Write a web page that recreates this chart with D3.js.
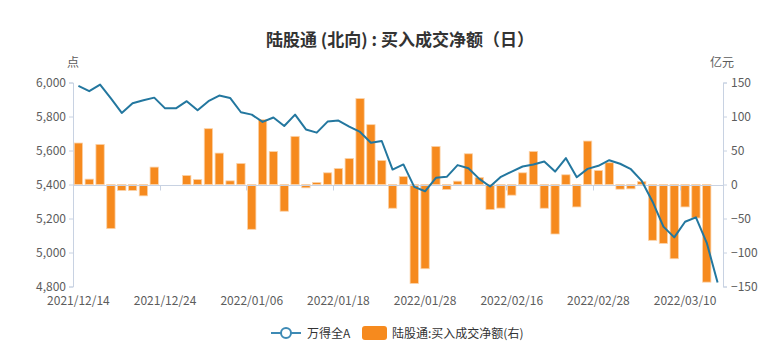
<!DOCTYPE html>
<html><head><meta charset="utf-8">
<script src="https://cdn.jsdelivr.net/npm/d3@7"></script>
<style>
html,body{margin:0;padding:0;background:#fff;}
svg text{font-family:"Microsoft YaHei","Noto Sans CJK SC","Noto Sans",sans-serif;}
</style></head>
<body><svg id="c" width="779" height="355"></svg>
<script>
const dates = ["2021/12/14","2021/12/15","2021/12/16","2021/12/17","2021/12/20","2021/12/21","2021/12/22","2021/12/23","2021/12/24","2021/12/27",
"2021/12/28","2021/12/29","2021/12/30","2021/12/31","2022/01/04","2022/01/05","2022/01/06","2022/01/07","2022/01/10","2022/01/11",
"2022/01/12","2022/01/13","2022/01/14","2022/01/17","2022/01/18","2022/01/19","2022/01/20","2022/01/21","2022/01/24","2022/01/25",
"2022/01/26","2022/01/27","2022/01/28","2022/02/07","2022/02/08","2022/02/09","2022/02/10","2022/02/11","2022/02/14","2022/02/15",
"2022/02/16","2022/02/17","2022/02/18","2022/02/21","2022/02/22","2022/02/23","2022/02/24","2022/02/25","2022/02/28","2022/03/01",
"2022/03/02","2022/03/03","2022/03/04","2022/03/07","2022/03/08","2022/03/09","2022/03/10","2022/03/11","2022/03/14","2022/03/15"];
const indexValues = [5980,5949,5988,5906,5821,5878,5896,5911,5848,5848,5890,5837,5890,5923,5909,5825,5811,5768,5794,5744,
5811,5724,5705,5770,5776,5740,5709,5646,5656,5488,5518,5386,5360,5439,5445,5514,5496,5433,5388,5445,
5476,5506,5518,5535,5476,5555,5443,5492,5510,5543,5522,5490,5421,5299,5152,5089,5181,5207,5057,4823];
const netBuy = [61.0,7.9,59,-64.9,-8.8,-8.8,-16.7,25.6,null,null,13.3,7.4,82.1,46.2,5.4,31,-65.9,95.4,48.5,-39.3,
70.8,-4.9,3,17.2,23.6,38.3,126.4,88,35.4,-34.9,11.8,-145.5,-123.9,56,-7.4,4.9,45.2,10.3,-36.9,-34.7,
-15.7,17.2,48.7,-34.9,-72.8,14.3,-33,63.9,20.6,32,-6.9,-6.4,4.4,-82.1,-86.6,-109.2,-33,-49.2,-143.6,null];
const leftTicks = [4800,5000,5200,5400,5600,5800,6000];
const rightTicks = [-150,-100,-50,0,50,100,150];
const xLabelDates = ["2021/12/14","2021/12/24","2022/01/06","2022/01/18","2022/01/28","2022/02/16","2022/02/28","2022/03/10"];
const title = "陆股通 (北向) : 买入成交净额（日）";
const seriesNames = ["万得全A","陆股通:买入成交净额(右)"];
const unitLeft = "点", unitRight = "亿元";

const svg = d3.select("#c");
const L = 73, R = 723, T = 82.5, B = 286.5;
const lineColor = "#23779f", barColor = "#f68a1e", axisColor = "#c8d2e2", textColor = "#5c5c5c";

const x = d3.scaleBand().domain(dates).range([L, R]).paddingInner(0).paddingOuter(0);
const yL = d3.scaleLinear().domain([4800, 6000]).range([B, T]);
const yR = d3.scaleLinear().domain([-150, 150]).range([B, T]);
const bw = x.bandwidth();

// title
svg.append("text").attr("x", 400).attr("y", 46).attr("text-anchor", "middle")
  .attr("font-size", 17).attr("font-weight", "bold").attr("fill", "#333").text(title);

// units
svg.append("text").attr("x", L).attr("y", 67).attr("text-anchor", "middle").attr("font-size", 12).attr("fill", textColor).text(unitLeft);
svg.append("text").attr("x", R - 1).attr("y", 67).attr("text-anchor", "middle").attr("font-size", 12).attr("fill", textColor).text(unitRight);

// left axis
const gl = svg.append("g").attr("transform", `translate(${L},0)`)
  .call(d3.axisLeft(yL).tickValues(leftTicks).tickFormat(d3.format(",")).tickSize(4).tickPadding(3));
gl.selectAll("path,line").attr("stroke", axisColor);
gl.selectAll("text").attr("font-size", 12).attr("fill", textColor).attr("font-family", '"Microsoft YaHei","Noto Sans CJK SC",sans-serif');

// right axis
const gr = svg.append("g").attr("transform", `translate(${R},0)`)
  .call(d3.axisRight(yR).tickValues(rightTicks).tickSize(4).tickPadding(4));
gr.selectAll("path,line").attr("stroke", axisColor);
gr.selectAll("text").attr("font-size", 12).attr("fill", textColor).attr("font-family", '"Microsoft YaHei","Noto Sans CJK SC",sans-serif');

// x axis labels at bottom
const gx = svg.append("g").attr("transform", `translate(0,${B})`)
  .call(d3.axisBottom(x).tickValues(xLabelDates).tickSize(0).tickPadding(10));
gx.select(".domain").remove();
gx.selectAll("text").attr("font-size", 12).attr("fill", textColor).attr("font-family", '"Microsoft YaHei","Noto Sans CJK SC",sans-serif');

// bars
svg.append("g").selectAll("rect").data(dates.map((d, i) => ({d, v: netBuy[i]})).filter(o => o.v !== null))
  .join("rect")
  .attr("x", o => x(o.d) + bw * 0.115)
  .attr("width", bw * 0.77)
  .attr("y", o => Math.min(yR(o.v), yR(0)))
  .attr("height", o => Math.abs(yR(o.v) - yR(0)))
  .attr("fill", barColor)
  .attr("stroke", "#fbd3aa").attr("stroke-width", 0.8);

// x axis line at zero with boundary ticks
const y0 = Math.round(yR(0)) + 0.5;
svg.append("line").attr("x1", L).attr("x2", R).attr("y1", y0).attr("y2", y0).attr("stroke", axisColor);
svg.append("g").selectAll("line").data(xLabelDates.slice(1)).join("line")
  .attr("x1", d => Math.round(x(d)) + 0.5).attr("x2", d => Math.round(x(d)) + 0.5)
  .attr("y1", y0).attr("y2", y0 + 5).attr("stroke", axisColor);

// line
const line = d3.line().x((v, i) => x(dates[i]) + bw / 2).y(v => yL(v));
svg.append("path").datum(indexValues).attr("d", line).attr("fill", "none")
  .attr("stroke", lineColor).attr("stroke-width", 2).attr("stroke-linejoin", "round");

// legend
const ly = 333;
svg.append("line").attr("x1", 271).attr("x2", 301).attr("y1", ly).attr("y2", ly).attr("stroke", "#3d8ab5").attr("stroke-width", 2);
svg.append("circle").attr("cx", 286).attr("cy", ly).attr("r", 5).attr("fill", "#fff").attr("stroke", "#3d8ab5").attr("stroke-width", 2);
svg.append("text").attr("x", 307).attr("y", ly + 4.5).attr("font-size", 12).attr("fill", "#333").text(seriesNames[0]);
svg.append("rect").attr("x", 362).attr("y", ly - 7).attr("width", 25).attr("height", 14).attr("rx", 3).attr("fill", barColor);
svg.append("text").attr("x", 392).attr("y", ly + 4.5).attr("font-size", 12).attr("fill", "#333").text(seriesNames[1]);
</script></body></html>
